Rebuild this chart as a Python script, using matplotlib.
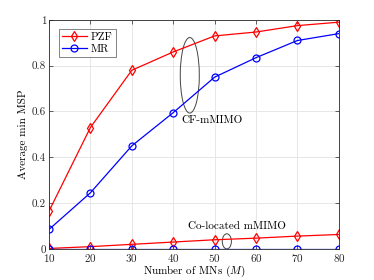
import matplotlib
matplotlib.use("Agg")
import matplotlib.pyplot as plt
from matplotlib.patches import Ellipse

plt.rcParams.update({
    "font.family": "cmr10",
    "mathtext.fontset": "cm",
    "axes.formatter.use_mathtext": True,
    "font.size": 8,
})

M = [10, 20, 30, 40, 50, 60, 70, 80]
cf_pzf = [0.165, 0.53, 0.78, 0.86, 0.93, 0.947, 0.975, 0.99]
cf_mr = [0.085, 0.245, 0.45, 0.595, 0.75, 0.835, 0.91, 0.94]
co_pzf = [0.002, 0.01, 0.02, 0.03, 0.04, 0.047, 0.056, 0.063]
co_mr = [0, 0, 0, 0, 0, 0, 0, 0]

fig = plt.figure(figsize=(3.74, 2.8), dpi=100)
ax = fig.add_axes([0.131, 0.111, 0.775, 0.818])

mk = dict(markerfacecolor="none", markersize=5, linewidth=0.9, markeredgewidth=0.9)
ax.plot(M, cf_pzf, "-d", color="red", label="PZF", **mk)
ax.plot(M, cf_mr, "-o", color="blue", label="MR", **mk)
ax.plot(M, co_pzf, "-d", color="red", **mk)
ax.plot(M, co_mr, "-o", color="blue", **mk)

ax.add_patch(Ellipse((44.0, 0.758), 4.6, 0.33, fill=False, edgecolor="#444444", linewidth=0.7))
ax.text(42.0, 0.56, "CF-mMIMO", ha="left", va="center", fontsize=8)
ax.add_patch(Ellipse((52.95, 0.033), 2.2, 0.066, fill=False, edgecolor="#444444", linewidth=0.7))
ax.text(55.5, 0.1, "Co-located mMIMO", ha="center", va="center", fontsize=8)

ax.set_xlim(10, 80)
ax.set_ylim(0, 1)
ax.set_xticks(M)
ax.set_yticks([0, 0.2, 0.4, 0.6, 0.8, 1])
ax.set_yticklabels(["0", "0.2", "0.4", "0.6", "0.8", "1"])
ax.grid(True, color="#e3e3e3", linewidth=0.6)
ax.set_axisbelow(True)
ax.tick_params(direction="in", length=3, width=0.5, top=True, right=True, colors="#262626", pad=2)
for s in ax.spines.values():
    s.set_linewidth(0.6)
    s.set_color("#262626")

ax.set_xlabel("Number of MNs ($M$)", labelpad=0)
ax.set_ylabel("Average min MSP", labelpad=3)

leg = ax.legend(loc="upper left", fontsize=8, handlelength=2.2, borderpad=0.3,
                labelspacing=0.2, handletextpad=0.4, fancybox=False,
                edgecolor="#262626", bbox_to_anchor=(0.015, 0.985))
leg.get_frame().set_linewidth(0.5)

fig.savefig("out.png", dpi=100)
